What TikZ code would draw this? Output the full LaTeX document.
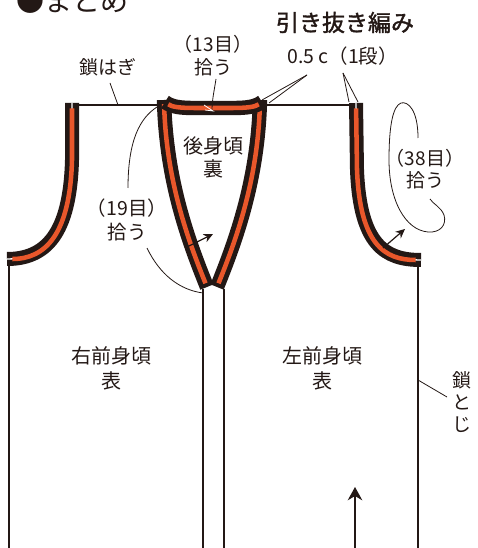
\documentclass[tikz,border=0pt]{standalone}
\usepackage{fontspec}
\setmainfont{Noto Sans CJK JP}
\newfontfamily\medfont[FakeBold=1.6]{Noto Sans CJK JP}
\usetikzlibrary{arrows.meta}
\definecolor{ink}{HTML}{231815}
\definecolor{bandc}{HTML}{E9572B}
\newcommand\pxfont[2]{\fontsize{#1}{#2}\selectfont}
\begin{document}
\begin{tikzpicture}[x=0.75pt,y=-0.75pt,
  bandnotch/.style={line width=10.5pt, draw=ink,
    postaction={draw=white, line width=1pt},
    postaction={draw=bandc, line width=3.4pt, shorten <=4pt, shorten >=4pt}},
  bandplain/.style={line width=10.8pt, draw=ink,
    postaction={draw=bandc, line width=3.4pt, shorten <=3pt, shorten >=3pt}},
  outline/.style={line width=1.2pt, draw=ink},
  leader/.style={line width=0.6pt, draw=ink},
  bandarrow/.style={line width=0.9pt, draw=ink, -{Stealth[length=7pt,width=6.5pt]}},
  lbl/.style={inner sep=0pt, align=center, text=ink, font=\pxfont{14.25pt}{17.6pt}},
  body/.style={inner sep=0pt, align=center, text=ink}]
\useasboundingbox (0,0) rectangle (477,548);

% outlines
\draw[outline] (9,264) -- (9,548);
\draw[outline] (418,265) -- (418,548);
\draw[outline] (203,289) -- (203,548);
\draw[outline] (224,289) -- (224,548);
\draw[outline] (79,105) -- (158,105);
\draw[outline] (267,105) -- (350,105);

% bands
\draw[bandnotch] (72,103) -- (72,160) .. controls (70,235) and (45,259) .. (7,259);
\draw[bandnotch] (356,103) -- (357,170) .. controls (360,245) and (385,260) .. (421,260);
\draw[bandplain] (164,100) .. controls (166,180) and (188,240) .. (207,287);
\draw[bandplain] (260,100) .. controls (258,180) and (236,240) .. (217,287);
\draw[bandplain] (165,102) .. controls (172,107) and (180,108) .. (195,108) -- (232,108) .. controls (247,108) and (255,107) .. (262,102);

% texts
\node[anchor=base west, inner sep=0pt, text=ink, font=\pxfont{21pt}{21pt}] (title) at (16,12) {●まとめ};
\node[lbl, font=\medfont\pxfont{17.25pt}{20pt}] (hiki) at (345,22.5) {引き抜き編み};
\node[lbl, font=\pxfont{14.6pt}{17pt}] (half) at (342.5,56) {0.5 c（1段）};
\node[lbl] (k13) at (213,55.5) {（13目）\\拾う};
\node[lbl] (kusari) at (107.5,67) {鎖はぎ};
\node[body, font=\pxfont{15pt}{17.25pt}] (back) at (213.5,157) {後身頃\\裏};
\node[lbl, font=\pxfont{14.6pt}{18.4pt}] (k19) at (127,220) {（19目）\\拾う};
\node[lbl, font=\pxfont{14.25pt}{16.9pt}] (k38) at (425,169) {（38目）\\拾う};
\node[body, font=\pxfont{15pt}{18.75pt}] (rf) at (111,368) {右前身頃\\表};
\node[body, font=\pxfont{15pt}{18.75pt}] (lf) at (322,368) {左前身頃\\表};
\node[lbl, font=\pxfont{14.25pt}{16.5pt}] (toji) at (462,402) {鎖\\と\\じ};

% leader coordinates
\coordinate (kusariA) at (110,83);
\coordinate (kusariB) at (118,105);
\coordinate (k13A) at (216,79);
\coordinate (k13B) at (212,111);
\coordinate (halfA) at (307,75);
\coordinate (halfB) at (343,73);
\coordinate (tojiA) at (418,380);
\coordinate (tojiB) at (447,397);

\draw[leader] (kusariA) -- (kusariB);
\draw[leader] (k13A) .. controls (214,92) and (212,100) .. (k13B);
\draw[white, line width=0.6pt] (204,105) -- (213,111) -- (205,110);
\draw[leader] (halfA) -- (262,100);
\draw[leader] (halfA) -- (269,103);
\draw[leader] (halfB) -- (349,102);
\draw[leader] (halfB) -- (358,102);
\draw[leader] (tojiA) -- (tojiB);

% 19 pick-up curve
\draw[leader] (157,107) .. controls (140,118) and (128,140) .. (128,188);
\draw[leader] (147,248) .. controls (160,275) and (180,290) .. (203,293);
% 38 pick-up loop
\draw[leader] (418,138) .. controls (418,110) and (408,101) .. (401,103)
  .. controls (393,106) and (389,125) .. (389,160)
  .. controls (389,200) and (405,230) .. (428,232)
  .. controls (440,233) and (447,225) .. (444,215)
  .. controls (441,207) and (433,204) .. (430,199);

% arrows
\draw[bandarrow] (187,247) -- (213,234);
\draw[bandarrow] (383,248) -- (405,229);
\draw[line width=0.8pt, draw=ink, -{Stealth[length=10pt,width=11pt]}] (355,548) -- (355,487);
\end{tikzpicture}
\end{document}
